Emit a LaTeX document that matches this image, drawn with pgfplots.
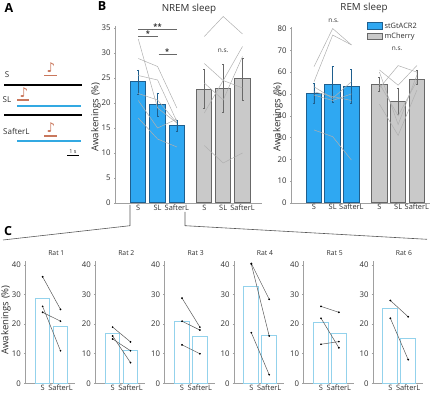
\documentclass[border=0pt]{standalone}
\usepackage{pgfplots}
\pgfplotsset{compat=1.18}
\usepackage{fontspec}
\setmainfont{Open Sans}
\newfontfamily\symf{DejaVu Sans}
\definecolor{bluebar}{HTML}{2FA8F2}
\definecolor{blueedge}{HTML}{1F5F8E}
\definecolor{greybar}{HTML}{C9C9C9}
\definecolor{greyedge}{HTML}{686868}
\definecolor{axisgrey}{HTML}{A0A0A0}
\definecolor{txt}{HTML}{2E2E2E}
\definecolor{linegrey}{HTML}{B0B0B0}
\definecolor{ratbar}{HTML}{93D2EC}
\definecolor{redtone}{HTML}{C9775C}
\definecolor{bline}{HTML}{33A9E2}
\pgfplotsset{
  common/.style={
    scale only axis, clip=false,
    axis x line=bottom, axis y line=left,
    axis line style={-, color=axisgrey, line width=0.6pt},
    /pgf/number format/assume math mode=true,
    tick style={color=axisgrey, line width=0.5pt},
    major tick length=1.5pt,
    tick align=outside,
    ticklabel style={font=\fontsize{7.8}{9}\selectfont, text=txt},
    xtick pos=lower, ytick pos=left,
    x tick style={draw=none},
    anchor=south west,
  },
  bluebars/.style={ybar, bar shift=0pt, fill=bluebar, draw=blueedge, line width=1pt,
    error bars/y dir=both, error bars/y explicit,
    error bars/error bar style={color=blueedge, line width=0.4pt},
    error bars/error mark options={rotate=90, mark size=1pt, color=blueedge}},
  greybars/.style={ybar, bar shift=0pt, fill=greybar, draw=greyedge, line width=1pt,
    error bars/y dir=both, error bars/y explicit,
    error bars/error bar style={color=greyedge, line width=0.4pt},
    error bars/error mark options={rotate=90, mark size=1pt, color=greyedge}},
  rl/.style={color=linegrey, line width=0.5pt, mark=none},
  sig/.style={color=greyedge, line width=0.8pt, mark=none},
  cl/.style={color=black!65, line width=0.5pt, mark=*, mark size=0.6pt, mark options={fill=black, draw=black}},
}
\newcommand{\ratpanel}[5]{%
\begin{axis}[common, at={(#1pt,9.7pt)}, width=50pt, height=122.3pt,
  xmin=0.03, xmax=2.83, ymin=0, ymax=41.35,
  ytick={0,10,20,30,40}, xtick={1,2}, xticklabels={S,SafterL},
  yticklabel style={xshift=0.5pt},
  xticklabel style={font=\fontsize{7.4}{8}\selectfont, inner sep=0pt, yshift=-0.2pt},
]
\addplot[ybar, bar shift=0pt, bar width=14.7pt, fill=white, draw=ratbar, line width=1pt]
  coordinates {(1,#3) (2,#4)};
#5
\end{axis}
\pgfmathsetmacro{\rx}{#1+31}
\node[font=\fontsize{6.8}{8}\selectfont, text=txt] at (\rx pt,140.3pt) {#2};
}
\newcommand{\ratline}[2]{\addplot[cl] coordinates {(1,#1) (2,#2)};}
\begin{document}
\begin{tikzpicture}[x=1pt,y=1pt]
\path[use as bounding box] (0,0) rectangle (440,393);
% panel letters
\node[font=\bfseries\fontsize{12.5}{14}\selectfont] at (9,385) {A};
\node[font=\bfseries\fontsize{12.5}{14}\selectfont] at (102,387) {B};
\node[font=\bfseries\fontsize{12.5}{14}\selectfont] at (8,162) {C};
% panel A
\def\nt#1#2{\node[font=\symf\fontsize{13.5}{14}\selectfont, text=redtone] at (#1,#2) {♪};}
\node[font=\fontsize{8}{9}\selectfont, text=txt] at (7,318) {S};
\draw[black, line width=1.4pt] (4,308) -- (82,308);
\draw[redtone, line width=1.4pt] (44,317.3) -- (57,317.3);
\nt{51}{325}
\node[font=\fontsize{8}{9}\selectfont, text=txt] at (7,293) {SL};
\draw[redtone, line width=1.4pt] (17,293) -- (29,293);
\nt{24}{300}
\draw[bline, line width=2.2pt] (17,287) -- (81,287);
\draw[black, line width=1.4pt] (4,278) -- (82,278);
\node[font=\fontsize{8}{9}\selectfont, text=txt, anchor=west, inner sep=0pt] at (3,262) {SafterL};
\draw[redtone, line width=1.4pt] (44,257) -- (57,257);
\nt{51}{265}
\draw[bline, line width=2.2pt] (17,252) -- (81,252);
\draw[black, line width=1.1pt] (67,237.3) -- (79,237.3);
\node[font=\fontsize{5.5}{6}\selectfont, text=txt] at (73,241.5) {1 s};
% titles
\node[font=\fontsize{9.8}{11}\selectfont, text=txt] at (189,384) {NREM sleep};
\node[font=\fontsize{9.8}{11}\selectfont, text=txt] at (364,385) {REM sleep};
\node[rotate=90, font=\fontsize{9.6}{11}\selectfont, text=txt] at (96,276) {Awakenings (\%)};
\node[rotate=90, font=\fontsize{9.6}{11}\selectfont, text=txt] at (278,276) {Awakenings (\%)};
\node[rotate=90, font=\fontsize{9.6}{11}\selectfont, text=txt] at (6,73) {Awakenings (\%)};
% NREM
\begin{axis}[common, at={(115.5pt,190pt)}, width=146.5pt, height=177pt,
  xmin=-0.18, xmax=7.41, ymin=0, ymax=35.4,
  ytick={0,5,10,15,20,25,30,35}, xtick={1,2,3,4.42,5.4,6.4},
  xticklabels={S,SL,SafterL,S,SL,SafterL},
  xticklabel style={font=\fontsize{7.4}{8}\selectfont, inner sep=0pt, yshift=-0.2pt},
]
\addplot[bluebars, bar width=15.3pt] coordinates {
 (1,24.2) += (0,2.4) -= (0,2.5)
 (2,19.7) += (0,2.3) -= (0,2.3)
 (3,15.5) += (0,1.1) -= (0,1.1)};
\addplot[greybars, bar width=15.3pt] coordinates {
 (4.42,22.7) += (0,4) -= (0,3.8)
 (5.4,22.9) += (0,4.8) -= (0,4.7)
 (6.4,24.8) += (0,4.2) -= (0,4.2)};
\addplot[rl] coordinates {(1,32.8) (2,19) (3,16)};
\addplot[rl] coordinates {(1,28.9) (2,27.3) (3,19)};
\addplot[rl] coordinates {(1,25.5) (2,24.6) (3,16.3)};
\addplot[rl] coordinates {(1,21.9) (2,20.6) (3,16)};
\addplot[rl] coordinates {(1,20.5) (2,15) (3,16.8)};
\addplot[rl] coordinates {(1,17) (2,12.8) (3,11.2)};
\addplot[rl] coordinates {(4.42,33.3) (5.4,37.3) (6.4,33.8)};
\addplot[rl] coordinates {(4.42,27.9) (5.4,24.5) (6.4,23)};
\addplot[rl] coordinates {(4.42,18) (5.4,24.5) (6.4,31.3)};
\addplot[rl] coordinates {(4.42,24) (5.4,20.6) (6.4,29.3)};
\addplot[rl] coordinates {(4.42,11.5) (5.4,8) (6.4,10)};
\addplot[sig] coordinates {(1,34.8) (3,34.8)};
\addplot[sig] coordinates {(1,33.4) (2,33.4)};
\addplot[sig] coordinates {(2.05,29.7) (3,29.7)};
\node[font=\bfseries\fontsize{7.5}{8}\selectfont, text=txt] at (axis cs:2,35.3) {**};
\node[font=\bfseries\fontsize{7.5}{8}\selectfont, text=txt] at (axis cs:1.5,33.9) {*};
\node[font=\bfseries\fontsize{7.5}{8}\selectfont, text=txt] at (axis cs:2.5,30.2) {*};
\node[font=\fontsize{6.5}{8}\selectfont, text=txt] at (axis cs:5.4,30.5) {n.s.};
\end{axis}
% REM
\begin{axis}[common, at={(291.5pt,190pt)}, width=138.5pt, height=176pt,
  xmin=-0.203, xmax=7.203, ymin=0, ymax=80.7,
  ytick={0,10,20,30,40,50,60,70,80}, xtick={1,2,3,4.5,5.5,6.5},
  xticklabels={S,SL,SafterL,S,SL,SafterL},
  xticklabel style={font=\fontsize{7.4}{8}\selectfont, inner sep=0pt, yshift=0.5pt},
  legend cell align=left,
  legend style={at={(0.545,1.036)}, anchor=north west, draw=none, fill=none, inner sep=0pt,
    font=\fontsize{7.4}{9}\selectfont, row sep=-0.5pt, legend columns=1, text=txt},
  legend image code/.code={\draw[#1, line width=0.9pt] (0pt,-3pt) rectangle (14.5pt,3.5pt);},
]
\addlegendimage{fill=bluebar, draw=blueedge}
\addlegendentry{stGtACR2}
\addlegendimage{fill=greybar, draw=greyedge}
\addlegendentry{mCherry}
\addplot[forget plot, bluebars, bar width=15.5pt] coordinates {
 (1,50.2) += (0,4.8) -= (0,4.6)
 (2,54.2) += (0,8.5) -= (0,8)
 (3,53.2) += (0,8) -= (0,7.6)};
\addplot[forget plot, greybars, bar width=15.5pt] coordinates {
 (4.5,54.2) += (0,3.3) -= (0,2.8)
 (5.5,46.6) += (0,5.9) -= (0,5.9)
 (6.5,56.8) += (0,4.2) -= (0,2.3)};
\addplot[forget plot, rl] coordinates {(1,62.5) (2,80) (3,72.5)};
\addplot[forget plot, rl] coordinates {(1,55.6) (2,77) (3,72.5)};
\addplot[forget plot, rl] coordinates {(1,53.3) (2,48) (3,55.6)};
\addplot[forget plot, rl] coordinates {(1,51) (2,48.8) (3,47)};
\addplot[forget plot, rl] coordinates {(1,49.5) (2,47) (3,50)};
\addplot[forget plot, rl] coordinates {(1,33.5) (2,30.4) (3,19.7)};
\addplot[forget plot, rl] coordinates {(4.5,61) (5.5,54) (6.5,63)};
\addplot[forget plot, rl] coordinates {(4.5,52.7) (5.5,63) (6.5,60)};
\addplot[forget plot, rl] coordinates {(4.5,60) (5.5,36) (6.5,58.6)};
\addplot[forget plot, rl] coordinates {(4.5,54.7) (5.5,40) (6.5,56)};
\addplot[forget plot, rl] coordinates {(4.5,45.3) (5.5,31) (6.5,51.7)};
\node[font=\fontsize{6.5}{8}\selectfont, text=txt] at (axis cs:2.05,83.5) {n.s.};
\node[font=\fontsize{6.5}{8}\selectfont, text=txt] at (axis cs:5.45,70.5) {n.s.};
\end{axis}
% connectors
\draw[black!65, line width=0.6pt] (130,188) -- (130,167.3) -- (3,153);
\draw[black!65, line width=0.6pt] (185,181) -- (185,167.3) -- (427,153.7);
% panel C
\ratpanel{25.3}{Rat 1}{28.7}{19.3}{\ratline{36}{25}\ratline{26}{11}\ratline{24}{21}}
\ratpanel{95.3}{Rat 2}{17}{11}{\ratline{19}{14}\ratline{16}{7}\ratline{15}{11}}
\ratpanel{164.7}{Rat 3}{21}{15.7}{\ratline{28.8}{19}\ratline{21}{18}\ratline{13}{10}}
\ratpanel{234}{Rat 4}{32.7}{16}{\ratline{40.5}{28.4}\ratline{40.3}{16}\ratline{17.1}{2.9}}
\ratpanel{303.7}{Rat 5}{20.5}{16.8}{\ratline{26}{24}\ratline{22}{12}\ratline{13.2}{14.1}}
\ratpanel{373}{Rat 6}{25.3}{15.3}{\ratline{28}{22.5}\ratline{22}{8}}
\end{tikzpicture}
\end{document}
